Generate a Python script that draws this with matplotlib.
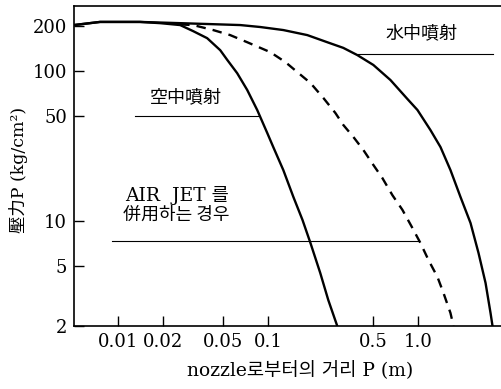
import matplotlib
matplotlib.use("Agg")
import matplotlib.pyplot as plt
import matplotlib.ticker as mticker

# --- data ---
air_x = [0.00509, 0.00759, 0.0140, 0.0191, 0.0259, 0.0316, 0.0392, 0.0479, 0.0533, 0.0621,
         0.0724, 0.0845, 0.0985, 0.108, 0.126, 0.147, 0.169, 0.191, 0.222, 0.251, 0.288]
air_y = [203, 213, 213, 209, 203, 185, 166, 138, 119, 97,
         75, 55, 38.7, 31.2, 21.9, 14.5, 10.2, 7.15, 4.51, 2.98, 2.0]

mix_x = [0.0259, 0.0316, 0.0430, 0.0558, 0.0724, 0.1031, 0.130, 0.156, 0.191, 0.233, 0.280,
         0.316, 0.369, 0.430, 0.501, 0.575, 0.671, 0.782, 0.912, 1.031, 1.166, 1.339,
         1.468, 1.634, 1.711]
mix_y = [205, 203, 188, 174, 156, 134, 115, 98.7, 83.4, 66.2, 52.6,
         43.8, 36.4, 29.8, 23.7, 19.4, 14.9, 11.9, 9.0, 7.15, 5.51, 4.24,
         3.32, 2.44, 2.0]

water_x = [0.00509, 0.00759, 0.0140, 0.0259, 0.0411, 0.0651, 0.0885, 0.126, 0.182, 0.247,
           0.316, 0.392, 0.501, 0.651, 0.845, 0.985, 1.202, 1.402, 1.634, 1.905, 2.222,
           2.512, 2.798, 3.02, 3.113]
water_y = [203, 213, 213, 209, 206, 203, 197, 188, 174, 156,
           143, 128, 110, 87.3, 65.2, 55.1, 40.5, 31.2, 21.9, 14.5, 9.72,
           6.13, 3.87, 2.44, 2.0]

xticks = [0.01, 0.02, 0.05, 0.1, 0.5, 1.0]
xtick_labels = ["0.01", "0.02", "0.05", "0.1", "0.5", "1.0"]
yticks = [2, 5, 10, 50, 100, 200]
ytick_labels = ["2", "5", "10", "50", "100", "200"]

# leader lines for labels: (x0, x1, y)
lead_water = (0.398, 3.16, 130)
lead_air = (0.013, 0.0858, 50)
lead_mix = (0.0091, 1.0, 7.37)

serif = ["DejaVu Serif", "Noto Sans CJK KR"]
cjk = ["Noto Sans CJK KR", "DejaVu Serif"]

fig = plt.figure(figsize=(5.02, 3.89), dpi=100)
ax = fig.add_axes([74/502, 63/389, 428/502, 320/389])
ax.set_xscale("log")
ax.set_yscale("log")
ax.set_xlim(0.00509, 3.6)
ax.set_ylim(2.0, 272)

kw = dict(color="black", lw=1.7, solid_joinstyle="round", solid_capstyle="round")
ax.plot(air_x, air_y, **kw)
ax.plot(water_x, water_y, **kw)
ax.plot(mix_x, mix_y, color="black", lw=1.7, ls=(0, (4, 3)), dash_joinstyle="round")

for (x0, x1, y) in (lead_water, lead_air, lead_mix):
    ax.plot([x0, x1], [y, y], color="black", lw=0.8)

ax.text(0.811, 0.916, "水中噴射", transform=ax.transAxes, ha="center", va="center",
        fontsize=13, family=cjk)
ax.text(0.262, 0.716, "空中噴射", transform=ax.transAxes, ha="center", va="center",
        fontsize=13, family=cjk)
ax.text(0.119, 0.409, "AIR  JET 를", transform=ax.transAxes, ha="left", va="center",
        fontsize=13.5, family=serif)
ax.text(0.114, 0.347, "併用하는 경우", transform=ax.transAxes, ha="left", va="center",
        fontsize=13, family=cjk)

ax.xaxis.set_major_locator(mticker.FixedLocator(xticks))
ax.xaxis.set_minor_locator(mticker.NullLocator())
ax.set_xticklabels(xtick_labels, family=serif, fontsize=13)
ax.yaxis.set_major_locator(mticker.FixedLocator(yticks))
ax.yaxis.set_minor_locator(mticker.NullLocator())
ax.set_yticklabels(ytick_labels, family=serif, fontsize=13)
ax.tick_params(direction="in", length=7, width=1, pad=5)

ax.spines["right"].set_visible(False)
for s in ("left", "bottom", "top"):
    ax.spines[s].set_linewidth(1.2)

ax.set_ylabel("壓力P (kg/cm²)", family=serif, fontsize=12.5)
ax.set_xlabel("nozzle로부터의 거리 P (m)", family=serif, fontsize=13.5)
ax.xaxis.label.set_verticalalignment("center")
ax.yaxis.label.set_verticalalignment("center")
ax.xaxis.set_label_coords((300-74)/428, -(371-326)/320)
ax.yaxis.set_label_coords(-(74-18)/428, (326-170)/320)

fig.savefig("out.png", dpi=100)
